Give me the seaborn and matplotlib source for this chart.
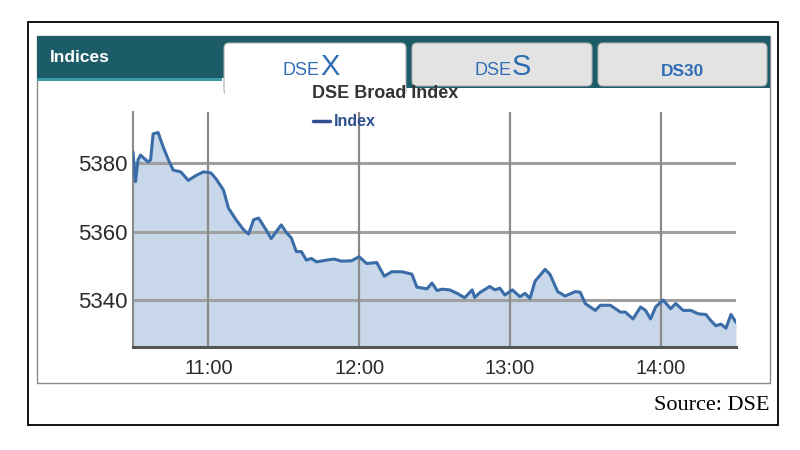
import pandas as pd
import seaborn as sns
import matplotlib.pyplot as plt
import matplotlib.dates as mdates
from matplotlib.patches import Rectangle, FancyBboxPatch
from matplotlib.lines import Line2D

# DSEX intraday values
times = [
    "10:30", "10:31", "10:32", "10:33", "10:36", "10:37", "10:38", "10:40", "10:42", "10:44",
    "10:46", "10:49", "10:52", "10:55", "10:58", "11:01", "11:03", "11:06", "11:08", "11:11",
    "11:14", "11:16", "11:18", "11:20", "11:23", "11:25", "11:29", "11:31", "11:33", "11:35",
    "11:37", "11:39", "11:41", "11:43", "11:47", "11:50", "11:53", "11:57", "12:00", "12:03",
    "12:07", "12:10", "12:13", "12:17", "12:21", "12:23", "12:27", "12:29", "12:31", "12:33",
    "12:36", "12:39", "12:42", "12:45", "12:46", "12:48", "12:52", "12:54", "12:56", "12:58",
    "13:01", "13:04", "13:06", "13:08", "13:10", "13:14", "13:16", "13:19", "13:22", "13:26",
    "13:28", "13:30", "13:32", "13:34", "13:36", "13:40", "13:42", "13:44", "13:46", "13:49",
    "13:52", "13:54", "13:56", "13:58", "14:01", "14:04", "14:06", "14:09", "14:12", "14:15",
    "14:18", "14:20", "14:22", "14:24", "14:26", "14:28", "14:30",
]
index_values = [
    5383.3, 5374.6, 5381.0, 5382.4, 5380.4, 5381.0, 5388.6, 5389.0, 5384.8, 5381.2,
    5378.0, 5377.5, 5375.0, 5376.4, 5377.5, 5377.2, 5375.5, 5372.2, 5366.9, 5363.5,
    5360.6, 5359.3, 5363.5, 5364.0, 5360.5, 5358.0, 5362.0, 5359.8, 5358.2, 5354.2,
    5354.2, 5351.7, 5352.2, 5351.2, 5351.7, 5352.0, 5351.4, 5351.5, 5352.7, 5350.7,
    5351.0, 5347.0, 5348.3, 5348.3, 5347.6, 5343.8, 5343.3, 5345.0, 5342.8, 5343.2,
    5343.0, 5342.0, 5340.7, 5343.0, 5340.8, 5342.2, 5344.0, 5343.0, 5343.5, 5341.5,
    5343.0, 5341.0, 5342.0, 5340.5, 5345.5, 5349.0, 5347.5, 5342.5, 5341.2, 5342.5,
    5342.3, 5339.0, 5338.0, 5337.0, 5338.5, 5338.5, 5337.5, 5336.5, 5336.5, 5334.5,
    5338.0, 5337.0, 5334.5, 5338.0, 5340.0, 5337.5, 5339.0, 5337.0, 5337.0, 5336.0,
    5335.8, 5334.0, 5332.5, 5333.0, 5331.8, 5335.8, 5333.5,
]
y_ticks = [5340, 5360, 5380]
x_ticks = ["11:00", "12:00", "13:00", "14:00"]
x_range = ["10:30", "14:30"]
y_range = [5326.3, 5395.0]

DAY = "2024-01-01 "
df = pd.DataFrame({"time": pd.to_datetime([DAY + t for t in times]), "index": index_values})

sns.set_style("white")
plt.rcParams["font.family"] = ["Liberation Sans", "DejaVu Sans"]

fig = plt.figure(figsize=(8, 4.5), dpi=100)
fig.patch.set_facecolor("white")
T = fig.dpi_scale_trans


def px(x, y):
    # pixel position (from top-left) -> inches for dpi_scale_trans
    return x / 100, 4.5 - y / 100


def rect(x0, y0, x1, y1, **kw):
    (a, b) = px(x0, y1)
    fig.add_artist(Rectangle((a, b), (x1 - x0) / 100, (y1 - y0) / 100, transform=T, **kw))


def tab(x0, y0, x1, y1, **kw):
    (a, b) = px(x0, y1)
    fig.add_artist(FancyBboxPatch((a, b), (x1 - x0) / 100, (y1 - y0) / 100,
                                  boxstyle="round,pad=0,rounding_size=0.05", transform=T, **kw))


# outer frame and inner panel
rect(28, 22, 778, 425, fill=False, ec="black", lw=1.3)
rect(37, 36, 770, 383, fill=False, ec="#8c8c8c", lw=1.0)

# header band
teal = "#1c5c68"
rect(37, 36, 770, 78, fc=teal, ec="none")
rect(37, 78, 222, 81, fc="#3d9aa6", ec="none")
rect(405, 78, 770, 88, fc=teal, ec="none")
tab(412, 43, 592, 86, fc="#e3e3e3", ec="#b0b0b0", lw=0.8)
tab(598, 43, 767, 86, fc="#e3e3e3", ec="#b0b0b0", lw=0.8)
tab(224, 43, 406, 95, fc="white", ec="#b0b0b0", lw=0.8)
rect(225, 82, 405, 100, fc="white", ec="none")

blue = "#2e6db4"
fig.text(*px(50, 58), "Indices", transform=T, color="white", fontsize=12.5,
         fontweight="bold", va="center", ha="left")
fig.text(*px(320, 75), "DSE", transform=T, color=blue, fontsize=13, ha="right", va="baseline")
fig.text(*px(320, 75), "X", transform=T, color=blue, fontsize=21, ha="left", va="baseline")
fig.text(*px(512, 75), "DSE", transform=T, color=blue, fontsize=13, ha="right", va="baseline")
fig.text(*px(512, 75), "S", transform=T, color=blue, fontsize=21, ha="left", va="baseline")
fig.text(*px(683, 71), "DS30", transform=T, color=blue, fontsize=12.5, fontweight="bold",
         ha="center", va="center")

# chart title and legend
fig.text(*px(312, 94), "DSE Broad Index", transform=T, color="#333333", fontsize=13,
         fontweight="bold", ha="left", va="center")
(lx0, ly) = px(313, 121)
(lx1, _) = px(330, 121)
fig.add_artist(Line2D([lx0, lx1], [ly, ly], transform=T, color="#2f4f8f", lw=2.5))
fig.text(*px(334, 121), "Index", transform=T, color="#2f4f8f", fontsize=11.5,
         fontweight="bold", ha="left", va="center")

fig.text(*px(770, 405), "Source: DSE", transform=T, color="black", fontsize=16,
         family=["Liberation Serif", "DejaVu Serif"], ha="right", va="center")

# chart
ax = fig.add_axes([133 / 800, 1 - 347 / 450, (736 - 133) / 800, (347 - 112) / 450])
ax.set_facecolor("white")
ax.fill_between(df["time"], df["index"], y_range[0], color="#c8d8ea", lw=0, zorder=1)
sns.lineplot(data=df, x="time", y="index", ax=ax, color="#3a6da8", lw=2.2, legend=False,
             zorder=3)

ax.set_xlim(pd.to_datetime(DAY + x_range[0]), pd.to_datetime(DAY + x_range[1]))
ax.set_ylim(*y_range)
ax.set_xticks(pd.to_datetime([DAY + t for t in x_ticks]))
ax.xaxis.set_major_formatter(mdates.DateFormatter("%H:%M"))
ax.set_yticks(y_ticks)
ax.tick_params(axis="y", length=0, pad=4, labelsize=16, labelcolor="#2b2b2b")
ax.tick_params(axis="x", length=0, pad=9, labelsize=14.5, labelcolor="#2b2b2b")
ax.set_xlabel("")
ax.set_ylabel("")

ax.grid(False)
for yv in y_ticks:
    ax.axhline(yv, color="#a0a0a0", lw=2.2, zorder=2)
for t in x_ticks:
    ax.axvline(pd.to_datetime(DAY + t), color="#8a8a8a", lw=1.6, zorder=2)

for s in ["top", "right"]:
    ax.spines[s].set_visible(False)
ax.spines["left"].set_color("#8a8a8a")
ax.spines["left"].set_linewidth(1.5)
ax.spines["bottom"].set_color("#555555")
ax.spines["bottom"].set_linewidth(2.2)

fig.savefig("out.png", dpi=100)
